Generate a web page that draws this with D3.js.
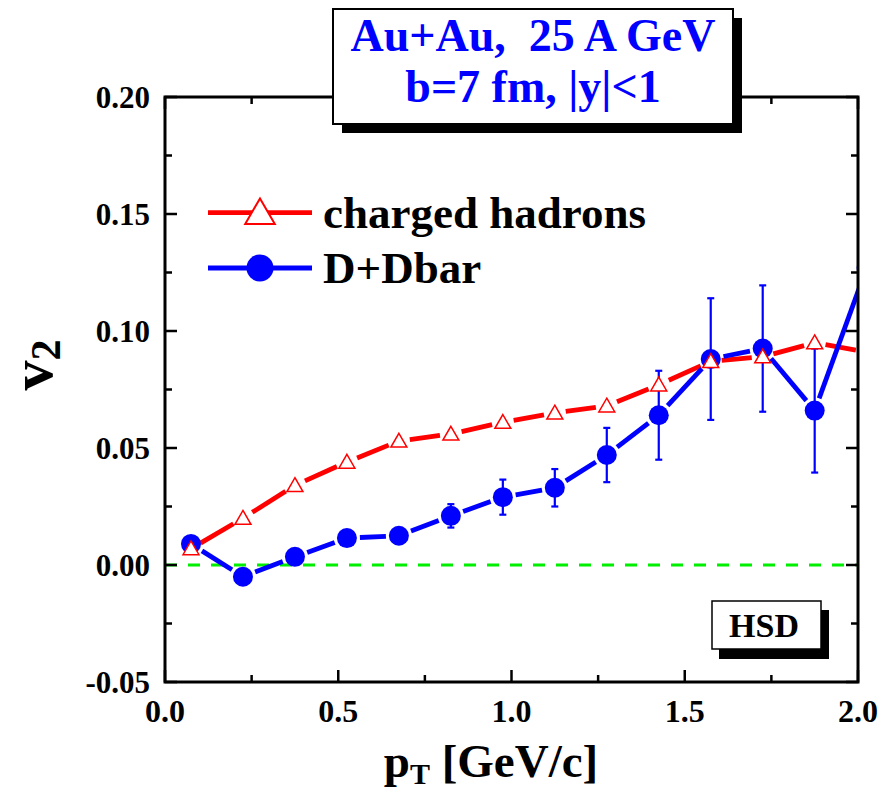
<!DOCTYPE html>
<html><head><meta charset="utf-8">
<script src="https://cdn.jsdelivr.net/npm/d3@7"></script>
<style>body{margin:0;background:#fff}svg{display:block}text{font-family:"Liberation Serif","Times New Roman",serif;font-weight:bold}</style>
</head><body><svg id="c" width="882" height="793"></svg>
<script>
const pt = [0.075,0.225,0.375,0.525,0.675,0.825,0.975,1.125,1.275,1.425,1.575,1.725,1.875,2.025];
const v2Charged = [0.007,0.020,0.034,0.044,0.053,0.056,0.061,0.065,0.068,0.077,0.087,0.089,0.095,0.091];
const v2D = [0.009,-0.005,0.0035,0.0115,0.0125,0.021,0.029,0.033,0.047,0.064,0.088,0.0925,0.066,0.127];
const v2DErr = [0.002,0,0,0,0,0.005,0.0075,0.008,0.0116,0.019,0.026,0.027,0.0265,0];
const xTicks = [0.0,0.5,1.0,1.5,2.0];
const yTicks = [-0.05,0.00,0.05,0.10,0.15,0.20];
const legendLabels = ["charged hadrons","D+Dbar"];
const titleLines = ["Au+Au,  25 A GeV","b=7 fm, |y|<1"];
const tagLabel = "HSD";

const svg = d3.select("#c");
const L=165,R=858,T=97,B=682;
const x = d3.scaleLinear().domain([0,2]).range([L,R]);
const y = d3.scaleLinear().domain([-0.05,0.20]).range([B,T]);

svg.append("defs").append("clipPath").attr("id","clip").append("rect")
  .attr("x",L).attr("y",T).attr("width",R-L).attr("height",B-T);

// zero line
svg.append("line").attr("x1",x(0)).attr("x2",x(2)).attr("y1",y(0)).attr("y2",y(0))
  .attr("stroke","#00ee00").attr("stroke-width",3).attr("stroke-dasharray","12,11");

const g = svg.append("g").attr("clip-path","url(#clip)");
function gapLines(vals,color,gap){
  for(let i=0;i<pt.length-1;i++){
    const x1=x(pt[i]),y1=y(vals[i]),x2=x(pt[i+1]),y2=y(vals[i+1]);
    const dx=x2-x1,dy=y2-y1,len=Math.hypot(dx,dy),ux=dx/len,uy=dy/len;
    g.append("line").attr("x1",x1+ux*gap).attr("y1",y1+uy*gap)
     .attr("x2",x2-ux*gap).attr("y2",y2-uy*gap)
     .attr("stroke",color).attr("stroke-width",4.8);
  }
}
gapLines(v2Charged,"#ff0000",11);
gapLines(v2D,"#0000ff",13);

// error bars
pt.forEach((p,i)=>{
  if(v2DErr[i]>0){
    const xx=x(p);
    g.append("line").attr("x1",xx).attr("x2",xx).attr("y1",y(v2D[i]-v2DErr[i])).attr("y2",y(v2D[i]+v2DErr[i]))
      .attr("stroke","#0000ff").attr("stroke-width",2.2);
    [v2D[i]-v2DErr[i],v2D[i]+v2DErr[i]].forEach(e=>{
      g.append("line").attr("x1",xx-3.5).attr("x2",xx+3.5).attr("y1",y(e)).attr("y2",y(e))
        .attr("stroke","#0000ff").attr("stroke-width",2.2);
    });
  }
});
// markers
const tri=d3.symbol().type(d3.symbolTriangle).size(110);
pt.forEach((p,i)=>{
  g.append("circle").attr("cx",x(p)).attr("cy",y(v2D[i])).attr("r",10).attr("fill","#0000ff");
});
pt.forEach((p,i)=>{
  g.append("path").attr("d",tri).attr("transform",`translate(${x(p)},${y(v2Charged[i])+1.5})`)
   .attr("fill","#fff").attr("stroke","#ff0000").attr("stroke-width",1.5);
});

// axes frame
const ax = svg.append("g").attr("stroke","#000").attr("stroke-width",3).attr("fill","none");
ax.append("rect").attr("x",L).attr("y",T).attr("width",R-L).attr("height",B-T);
const xMinor=d3.range(0,2.001,0.25), yMinor=d3.range(-0.05,0.2001,0.025);
xMinor.forEach((t,i)=>{
  const len = i%2===0?12:7;
  ax.append("line").attr("x1",x(t)).attr("x2",x(t)).attr("y1",B).attr("y2",B-len).attr("stroke-width",2.5);
  ax.append("line").attr("x1",x(t)).attr("x2",x(t)).attr("y1",T).attr("y2",T+len).attr("stroke-width",2.5);
});
yMinor.forEach((t,i)=>{
  const len = i%2===0?12:7;
  ax.append("line").attr("y1",y(t)).attr("y2",y(t)).attr("x1",L).attr("x2",L+len).attr("stroke-width",2.5);
  ax.append("line").attr("y1",y(t)).attr("y2",y(t)).attr("x1",R).attr("x2",R-len).attr("stroke-width",2.5);
});
// tick labels
svg.append("g").selectAll("text").data(xTicks).join("text")
  .attr("x",d=>x(d)).attr("y",722).attr("text-anchor","middle").attr("font-size",32)
  .text(d=>d3.format(".1f")(d));
svg.append("g").selectAll("text").data(yTicks).join("text")
  .attr("x",150).attr("y",d=>y(d)).attr("dy","0.35em").attr("text-anchor","end").attr("font-size",31)
  .text(d=>d3.format(".2f")(d).replace("−","-"));
// axis titles
const xt=svg.append("text").attr("x",491).attr("y",777).attr("text-anchor","middle").attr("font-size",47);
xt.append("tspan").text("p");
xt.append("tspan").attr("font-size",30).attr("dy",7).text("T");
xt.append("tspan").attr("dy",-7).text(" [GeV/c]");
const yt=svg.append("text").attr("transform","translate(52,365) rotate(-90)").attr("text-anchor","middle").attr("font-size",60);
yt.append("tspan").text("v");
yt.append("tspan").attr("font-size",42).attr("dy",8).text("2");

// legend
const lg=svg.append("g");
[[212.7,"#ff0000"],[268,"#0000ff"]].forEach(([yy,c],i)=>{
  lg.append("line").attr("x1",208).attr("x2",312).attr("y1",yy).attr("y2",yy).attr("stroke",c).attr("stroke-width",4.8);
  lg.append("text").attr("x",323).attr("y",yy+15).attr("font-size",45).text(legendLabels[i]);
});
lg.append("path").attr("d",d3.symbol().type(d3.symbolTriangle).size(380)).attr("transform","translate(260,215.5)")
  .attr("fill","#fff").attr("stroke","#ff0000").attr("stroke-width",2);
lg.append("circle").attr("cx",260).attr("cy",268).attr("r",13.5).attr("fill","#0000ff");

// title box
svg.append("rect").attr("x",342).attr("y",18).attr("width",400).attr("height",115).attr("fill","#000");
svg.append("rect").attr("x",333).attr("y",9).attr("width",400).attr("height",115).attr("fill","#fff").attr("stroke","#000").attr("stroke-width",2);
titleLines.forEach((t,i)=>{
  svg.append("text").attr("x",533).attr("y",51+i*51).attr("text-anchor","middle").attr("font-size",46)
    .attr("fill","#0000ff").attr("xml:space","preserve").style("white-space","pre").text(t);
});
// HSD tag
svg.append("rect").attr("x",719).attr("y",610).attr("width",110).attr("height",49).attr("fill","#000");
svg.append("rect").attr("x",712).attr("y",601).attr("width",109).attr("height",48).attr("fill","#fff").attr("stroke","#000").attr("stroke-width",1.5);
svg.append("text").attr("x",764).attr("y",637).attr("text-anchor","middle").attr("font-size",34).text(tagLabel);
</script></body></html>
